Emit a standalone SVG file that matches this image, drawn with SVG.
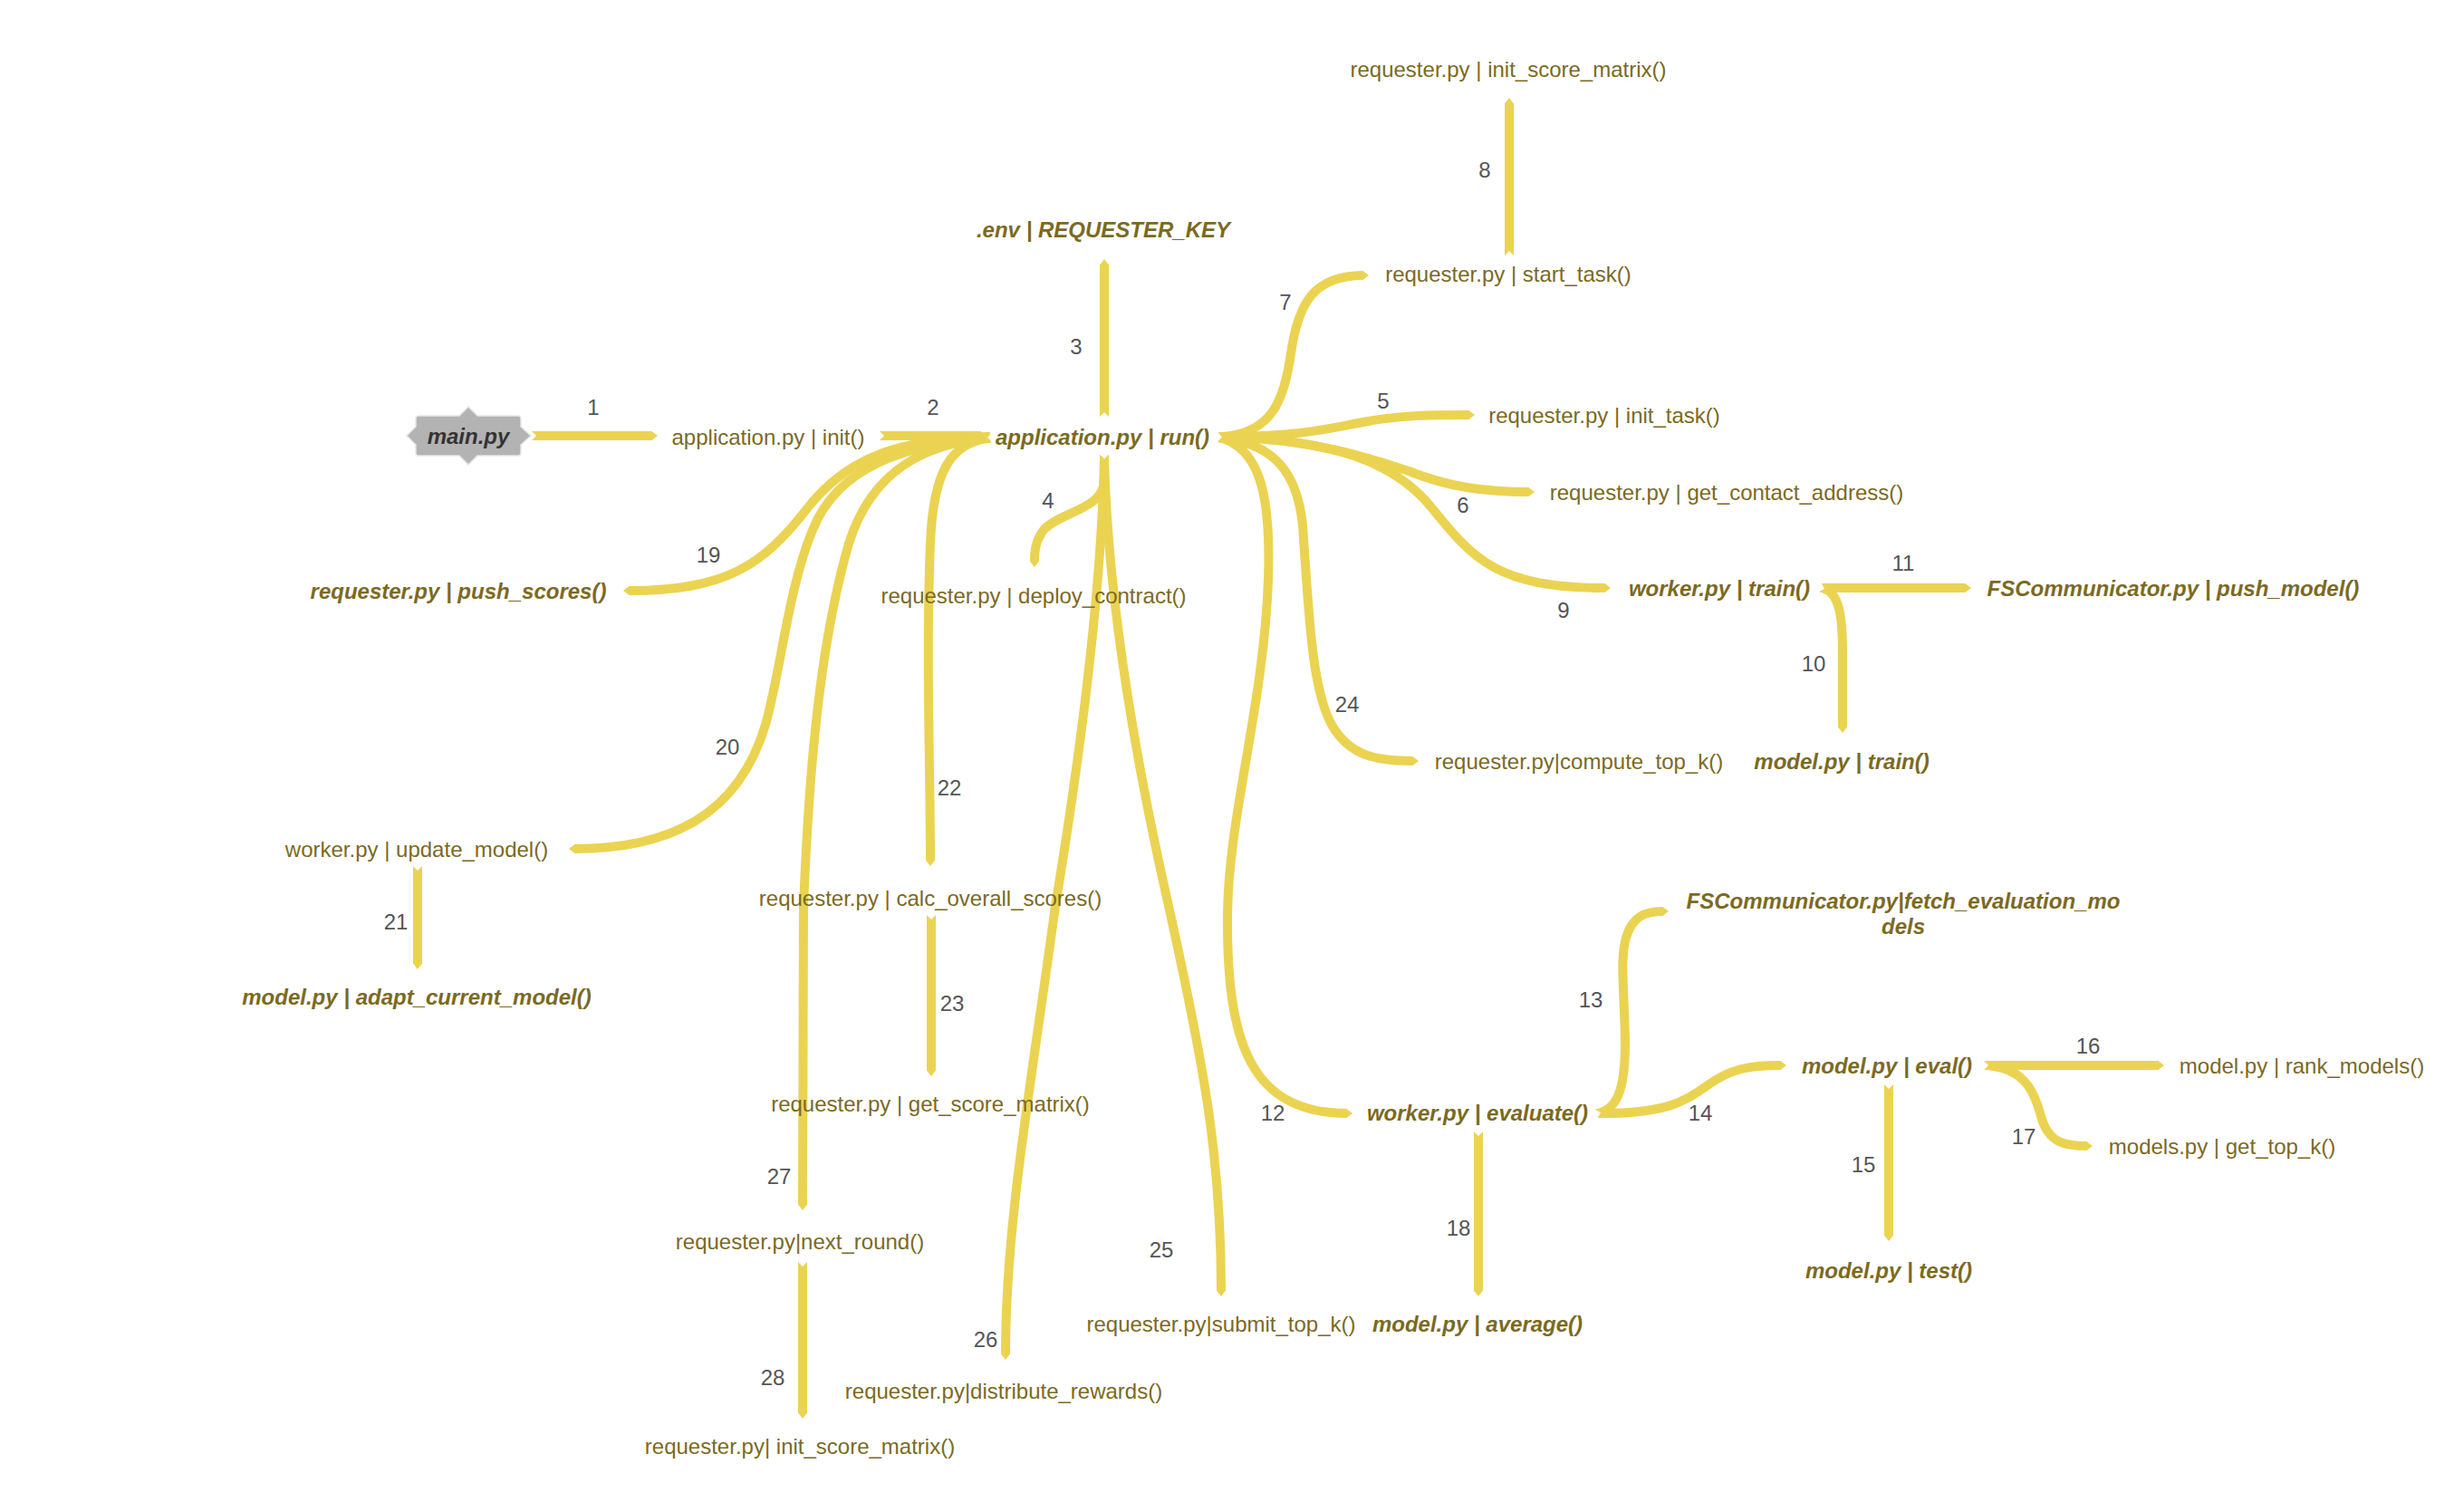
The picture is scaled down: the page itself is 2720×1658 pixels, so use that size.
<svg xmlns="http://www.w3.org/2000/svg" width="2720" height="1658" viewBox="0 0 2720 1658">
<style>
.c{fill:none;stroke:#ebd352;stroke-width:10;marker-start:url(#tail);marker-end:url(#tip)}
.t{font-family:"Liberation Sans",Arial,sans-serif;font-size:24px;fill:#7b6a1f;text-anchor:middle}
.b{font-weight:bold;font-style:italic}
.n{font-family:"Liberation Sans",Arial,sans-serif;font-size:24px;fill:#555555;text-anchor:middle}
</style>
<defs>
<marker id="tip" viewBox="-0.5 -5 7 10" refX="0" refY="0" markerWidth="0.7" markerHeight="1" markerUnits="strokeWidth" orient="auto"><path d="M-0.5,-5 L6,0 L-0.5,5z" fill="#ebd352"/></marker>
<marker id="tail" viewBox="-5 -5 6 10" refX="0" refY="0" markerWidth="0.6" markerHeight="1" markerUnits="strokeWidth" orient="auto"><path d="M1,-5 L-5,-5 L0,0 L-5,5 L1,5z" fill="#ebd352"/></marker>
</defs>
<rect width="2720" height="1658" fill="#ffffff"/>
<g id="connectors">
<path class="c" d="M592,481 L720,481"/>
<path class="c" d="M976,481 L1083,481"/>
<path class="c" d="M1219,455 L1219,292"/>
<path class="c" d="M1219,507 L1219,530 C1219,562 1170,565 1152,585 C1143,597 1142,608 1142,620"/>
<path class="c" d="M1350,482 C1440,482 1470,472 1510,465 C1550,458 1580,458 1622,458"/>
<path class="c" d="M1350,482 C1450,485 1510,505 1555,520 C1600,538 1640,543 1688,543"/>
<path class="c" d="M1350,482 C1405,478 1418,440 1425,390 C1433,335 1450,304 1505,304"/>
<path class="c" d="M1666,277 L1666,114"/>
<path class="c" d="M1350,482 C1470,485 1540,510 1580,560 C1625,615 1650,649 1772,649"/>
<path class="c" d="M2014,650 C2030,655 2034,680 2034,720 L2034,803"/>
<path class="c" d="M2016,649 L2170,649"/>
<path class="c" d="M1350,484 C1392,498 1403,550 1400,640 C1395,780 1356,900 1355,1010 C1354,1150 1380,1229 1487,1229"/>
<path class="c" d="M1767,1228 C1788,1222 1794,1195 1794,1150 C1793,1090 1788,1060 1795,1035 C1802,1012 1815,1006 1836,1006"/>
<path class="c" d="M1769,1229 C1840,1229 1862,1215 1885,1198 C1910,1180 1930,1176 1966,1176"/>
<path class="c" d="M2085,1202 L2085,1364"/>
<path class="c" d="M2195,1176 L2383,1176"/>
<path class="c" d="M2200,1177 C2238,1182 2247,1210 2253,1232 C2261,1262 2280,1265 2304,1265"/>
<path class="c" d="M1632,1254 L1632,1425"/>
<path class="c" d="M1089,482 C1000,485 940,500 892,560 C842,625 800,652 694,652"/>
<path class="c" d="M1089,484 C1000,490 925,515 897,585 C870,650 862,740 845,800 C815,900 740,937 634,937"/>
<path class="c" d="M461,961 L461,1064"/>
<path class="c" d="M1089,484 C1050,490 1030,520 1027,600 C1022,720 1027,850 1027,950"/>
<path class="c" d="M1028,1015 L1028,1182"/>
<path class="c" d="M1350,484 C1405,490 1432,520 1438,580 C1445,680 1448,760 1470,800 C1490,835 1520,840 1560,840"/>
<path class="c" d="M1219,507 C1222,620 1240,780 1290,1000 C1330,1180 1348,1280 1348,1425"/>
<path class="c" d="M1219,507 C1216,640 1198,800 1165,1000 C1138,1200 1110,1350 1110,1495"/>
<path class="c" d="M1089,484 C1020,490 962,520 937,600 C905,710 893,850 887,1000 L886,1330"/>
<path class="c" d="M886,1398 L886,1560"/>
</g>
<g id="connector-labels">
<text class="n" x="655" y="458">1</text>
<text class="n" x="1030" y="458">2</text>
<text class="n" x="1188" y="391">3</text>
<text class="n" x="1157" y="561">4</text>
<text class="n" x="1527" y="451">5</text>
<text class="n" x="1615" y="566">6</text>
<text class="n" x="1419" y="342">7</text>
<text class="n" x="1639" y="196">8</text>
<text class="n" x="1726" y="682">9</text>
<text class="n" x="2002" y="741">10</text>
<text class="n" x="2101" y="630">11</text>
<text class="n" x="1405" y="1237">12</text>
<text class="n" x="1756" y="1112">13</text>
<text class="n" x="1877" y="1237">14</text>
<text class="n" x="2057" y="1294">15</text>
<text class="n" x="2305" y="1163">16</text>
<text class="n" x="2234" y="1263">17</text>
<text class="n" x="1610" y="1364">18</text>
<text class="n" x="782" y="621">19</text>
<text class="n" x="803" y="833">20</text>
<text class="n" x="437" y="1026">21</text>
<text class="n" x="1048" y="878">22</text>
<text class="n" x="1051" y="1116">23</text>
<text class="n" x="1487" y="786">24</text>
<text class="n" x="1282" y="1388">25</text>
<text class="n" x="1088" y="1487">26</text>
<text class="n" x="860" y="1307">27</text>
<text class="n" x="853" y="1529">28</text>
</g>
<g id="n-main">
<path d="M462,459 H507 L517,449 L527,459 H572 Q575,459 575,462 V471 L586,481 L575,491 V500 Q575,503 572,503 H527 L517,513 L507,503 H462 Q459,503 459,500 V491 L449,481 L459,471 V462 Q459,459 462,459 Z" fill="#b3b3b3" stroke="#e6e6e6" stroke-width="1.5"/>
<text x="517" y="490" font-family="Liberation Sans, Arial, sans-serif" font-size="24" font-weight="bold" font-style="italic" fill="#333333" text-anchor="middle">main.py</text>
</g>
<g id="n-init"><text class="t" x="848" y="491">application.py | init()</text></g>
<g id="n-run"><text class="t b" x="1217" y="491">application.py | run()</text></g>
<g id="n-env"><text class="t b" x="1218" y="262">.env | REQUESTER_KEY</text></g>
<g id="n-init-score-matrix-top"><text class="t" x="1665" y="85">requester.py | init_score_matrix()</text></g>
<g id="n-start-task"><text class="t" x="1665" y="311">requester.py | start_task()</text></g>
<g id="n-init-task"><text class="t" x="1771" y="467">requester.py | init_task()</text></g>
<g id="n-contact"><text class="t" x="1906" y="552">requester.py | get_contact_address()</text></g>
<g id="n-worker-train"><text class="t b" x="1898" y="658">worker.py | train()</text></g>
<g id="n-push-model"><text class="t b" x="2399" y="658">FSCommunicator.py | push_model()</text></g>
<g id="n-compute-top-k"><text class="t" x="1743" y="849">requester.py|compute_top_k()</text></g>
<g id="n-model-train"><text class="t b" x="2033" y="849">model.py | train()</text></g>
<g id="n-deploy"><text class="t" x="1141" y="666">requester.py | deploy_contract()</text></g>
<g id="n-push-scores"><text class="t b" x="506" y="661">requester.py | push_scores()</text></g>
<g id="n-update-model"><text class="t" x="460" y="946">worker.py | update_model()</text></g>
<g id="n-adapt"><text class="t b" x="460" y="1109">model.py | adapt_current_model()</text></g>
<g id="n-calc"><text class="t" x="1027" y="1000">requester.py | calc_overall_scores()</text></g>
<g id="n-get-score"><text class="t" x="1027" y="1227">requester.py | get_score_matrix()</text></g>
<g id="n-next-round"><text class="t" x="883" y="1379">requester.py|next_round()</text></g>
<g id="n-init-score-matrix-bottom"><text class="t" x="883" y="1605">requester.py| init_score_matrix()</text></g>
<g id="n-distribute"><text class="t" x="1108" y="1544">requester.py|distribute_rewards()</text></g>
<g id="n-submit"><text class="t" x="1348" y="1470">requester.py|submit_top_k()</text></g>
<g id="n-average"><text class="t b" x="1631" y="1470">model.py | average()</text></g>
<g id="n-evaluate"><text class="t b" x="1631" y="1237">worker.py | evaluate()</text></g>
<g id="n-fetch"><text class="t b" x="2101" y="1003">FSCommunicator.py|fetch_evaluation_mo</text><text class="t b" x="2101" y="1031">dels</text></g>
<g id="n-eval"><text class="t b" x="2083" y="1185">model.py | eval()</text></g>
<g id="n-rank"><text class="t" x="2541" y="1185">model.py | rank_models()</text></g>
<g id="n-top-k"><text class="t" x="2453" y="1274">models.py | get_top_k()</text></g>
<g id="n-test"><text class="t b" x="2085" y="1411">model.py | test()</text></g>
</svg>
